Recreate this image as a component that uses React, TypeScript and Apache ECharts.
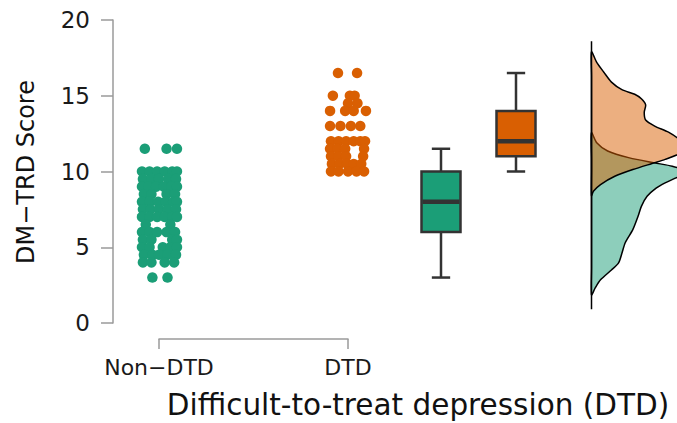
import React, { useEffect, useRef } from "react";
import * as echarts from "echarts";

const FONT = "DejaVu Sans";
const categories = ["Non\u2212DTD", "DTD"];
const colors = ["#1B9E77", "#D95F02"];
const densityFills = ["rgba(27,158,119,0.5)", "rgba(217,95,2,0.5)"];
const yMin = 0;
const yMax = 20;
const yStep = 5;
const yTitle = "DM\u2212TRD Score";
const xTitle = "Difficult-to-treat depression (DTD)";

// [horizontal jitter (category units), score]
const nonDtdPoints: [number, number][] = [
  [-0.075, 11.5], [0.04, 11.5], [0.095, 11.5],
  [-0.09, 10], [-0.05, 10], [-0.01, 10], [0.03, 10], [0.07, 10], [0.095, 10],
  [-0.085, 9.5], [-0.04, 9.5], [0.0, 9.5], [0.05, 9.5], [0.09, 9.5],
  [-0.09, 9], [-0.055, 9], [-0.015, 9], [0.025, 9], [0.065, 9], [0.095, 9],
  [-0.08, 8.5], [-0.04, 8.5], [0.04, 8.5], [0.085, 8.5],
  [-0.09, 8], [-0.05, 8], [-0.005, 8], [0.035, 8], [0.075, 8], [0.095, 8],
  [-0.085, 7.5], [-0.045, 7.5], [0.0, 7.5], [0.045, 7.5], [0.09, 7.5],
  [-0.09, 7], [-0.05, 7], [-0.01, 7], [0.03, 7], [0.07, 7], [0.095, 7],
  [-0.07, 6.5], [0.06, 6.5],
  [-0.09, 6], [-0.05, 6], [-0.01, 6], [0.04, 6], [0.085, 6],
  [-0.085, 5.5], [-0.04, 5.5], [0.07, 5.5], [0.095, 5.5],
  [-0.09, 5], [-0.05, 5], [0.02, 5], [0.06, 5], [0.095, 5],
  [-0.08, 4.5], [-0.035, 4.5], [0.0, 4.5], [0.045, 4.5], [0.09, 4.5],
  [-0.085, 4], [-0.04, 4], [0.03, 4], [0.08, 4],
  [-0.035, 3], [0.045, 3],
];

const dtdPoints: [number, number][] = [
  [-0.053, 16.5], [0.048, 16.5],
  [-0.08, 15], [0.01, 15], [0.035, 15],
  [0.0, 14.5], [0.05, 14.5],
  [-0.095, 14], [-0.015, 14], [0.03, 14], [0.095, 14],
  [-0.095, 13], [-0.04, 13], [0.015, 13], [0.065, 13],
  [-0.09, 12], [-0.05, 12], [-0.01, 12], [0.03, 12], [0.065, 12], [0.09, 12],
  [-0.095, 11.5], [-0.055, 11.5], [-0.015, 11.5], [0.085, 11.5],
  [-0.09, 11], [-0.05, 11], [-0.01, 11], [0.08, 11],
  [-0.085, 10.5], [-0.045, 10.5], [-0.005, 10.5], [0.03, 10.5], [0.07, 10.5],
  [-0.09, 10], [-0.05, 10], [0.0, 10], [0.045, 10], [0.085, 10],
];

// [min, Q1, median, Q3, max]
const boxStats: number[][] = [
  [3, 6, 8, 10, 11.5],
  [10, 11, 12, 14, 16.5],
];

// [score, density]
const nonDtdDensity: [number, number][] = [
  [12.56, 0], [11.9, 0.011], [11.35, 0.034], [10.9, 0.08], [10.57, 0.133],
  [10.35, 0.17], [10.13, 0.189], [9.8, 0.193], [9.58, 0.178], [9.25, 0.155],
  [8.9, 0.136], [8.36, 0.117], [7.7, 0.105], [7.04, 0.098], [6.16, 0.087],
  [5.3, 0.071], [4.6, 0.064], [3.97, 0.057], [3.5, 0.042], [2.85, 0.019],
  [2.3, 0.0075], [1.85, 0],
];
const dtdDensity: [number, number][] = [
  [17.9, 0], [17.2, 0.011], [16.55, 0.026], [15.9, 0.042], [15.4, 0.064],
  [15.1, 0.091], [14.8, 0.105], [14.4, 0.114], [13.9, 0.111], [13.4, 0.114],
  [13.0, 0.133], [12.6, 0.162], [12.1, 0.185], [11.7, 0.193], [11.25, 0.189],
  [10.8, 0.155], [10.58, 0.133], [10.13, 0.087], [9.69, 0.049], [9.14, 0.019],
  [8.7, 0.004], [8.4, 0],
];
const densityBaseRange = [0.9, 18.6];
const densityMax = 0.18;

const densities = [nonDtdDensity, dtdDensity];

export default function App() {
  const ref = useRef<HTMLDivElement>(null);
  useEffect(() => {
    if (!ref.current) return;
    const chart = echarts.init(ref.current, null, { renderer: "svg" });
    const hiddenY = (gi: number) => ({
      type: "value",
      gridIndex: gi,
      min: yMin,
      max: yMax,
      interval: yStep,
      show: false,
    });
    const axisColor = "#9a9a9a";
    const option: any = {
      animation: false,
      backgroundColor: "#ffffff",
      textStyle: { fontFamily: FONT },
      grid: [
        { left: 159, width: 189, top: 20, bottom: 100 },
        { left: 403.5, width: 150, top: 20, bottom: 100 },
        { left: 591.5, width: 88, top: 20, bottom: 100 },
        { left: 113, width: 10, top: 20, bottom: 100 },
      ],
      xAxis: [
        {
          type: "value",
          gridIndex: 0,
          min: 0,
          max: 1,
          interval: 1,
          offset: 16,
          axisLine: { show: true, onZero: false, lineStyle: { color: axisColor, width: 1.5 } },
          axisTick: { show: true, length: 10, inside: false, lineStyle: { color: axisColor, width: 1.5 } },
          axisLabel: {
            show: true,
            margin: 17,
            fontSize: 22,
            color: "#1a1a1a",
            fontFamily: FONT,
            showMinLabel: true,
            showMaxLabel: true,
            formatter: (v: number) => categories[Math.round(v)] ?? "",
          },
          splitLine: { show: false },
        },
        {
          type: "category",
          gridIndex: 1,
          data: categories,
          show: false,
        },
        {
          type: "value",
          gridIndex: 2,
          min: 0,
          max: densityMax,
          show: false,
        },
        {
          type: "value",
          gridIndex: 3,
          min: 0,
          max: 1,
          show: false,
        },
      ],
      yAxis: [
        hiddenY(0),
        hiddenY(1),
        hiddenY(2),
        {
          type: "value",
          gridIndex: 3,
          min: yMin,
          max: yMax,
          interval: yStep,
          axisLine: { show: true, onZero: false, lineStyle: { color: axisColor, width: 1.5 } },
          axisTick: { show: true, length: 12, lineStyle: { color: axisColor, width: 1.5 } },
          axisLabel: { margin: 23, fontSize: 23, color: "#1a1a1a", fontFamily: FONT },
          splitLine: { show: false },
        },
      ],
      series: [
        {
          type: "scatter",
          name: categories[0],
          xAxisIndex: 0,
          yAxisIndex: 0,
          clip: false,
          symbolSize: 10.5,
          itemStyle: { color: colors[0], opacity: 1 },
          emphasis: { disabled: true },
          data: nonDtdPoints.map(([j, v]) => [0 + j, v]),
        },
        {
          type: "scatter",
          name: categories[1],
          xAxisIndex: 0,
          yAxisIndex: 0,
          clip: false,
          symbolSize: 10.5,
          itemStyle: { color: colors[1], opacity: 1 },
          emphasis: { disabled: true },
          data: dtdPoints.map(([j, v]) => [1 + j, v]),
        },
        {
          type: "custom",
          name: "box",
          xAxisIndex: 1,
          yAxisIndex: 1,
          encode: { x: 0, y: [1, 2, 3, 4, 5] },
          data: boxStats.map((s, i) => [i, ...s]),
          renderItem: (params: any, api: any) => {
            const idx = api.value(0);
            const lo = api.coord([idx, api.value(1)]);
            const q1 = api.coord([idx, api.value(2)]);
            const med = api.coord([idx, api.value(3)]);
            const q3 = api.coord([idx, api.value(4)]);
            const hi = api.coord([idx, api.value(5)]);
            const band = api.size([1, 0])[0];
            const bw = band * 0.52;
            const cw = bw * 0.47;
            const cx = lo[0];
            const st = { stroke: "#333333", lineWidth: 2.5, fill: null };
            return {
              type: "group",
              children: [
                { type: "line", shape: { x1: cx, y1: hi[1], x2: cx, y2: q3[1] }, style: st },
                { type: "line", shape: { x1: cx, y1: q1[1], x2: cx, y2: lo[1] }, style: st },
                { type: "line", shape: { x1: cx - cw / 2, y1: hi[1], x2: cx + cw / 2, y2: hi[1] }, style: st },
                { type: "line", shape: { x1: cx - cw / 2, y1: lo[1], x2: cx + cw / 2, y2: lo[1] }, style: st },
                {
                  type: "rect",
                  shape: { x: cx - bw / 2, y: q3[1], width: bw, height: q1[1] - q3[1] },
                  style: { fill: colors[idx], stroke: "#333333", lineWidth: 2.5 },
                },
                {
                  type: "line",
                  shape: { x1: cx - bw / 2 + 1, y1: med[1], x2: cx + bw / 2 - 1, y2: med[1] },
                  style: { stroke: "#333333", lineWidth: 4.5 },
                },
              ],
            };
          },
        },
        {
          type: "custom",
          name: "density",
          xAxisIndex: 2,
          yAxisIndex: 2,
          data: densities.map((_, i) => [i]),
          renderItem: (params: any, api: any) => {
            const i = params.dataIndex;
            const curve = densities[i];
            const pts = curve.map(([s, d]) => api.coord([d, s]));
            const first = curve[0][0];
            const last = curve[curve.length - 1][0];
            const base: number[][] = [];
            const n = 6;
            for (let k = 1; k < n; k++) {
              base.push(api.coord([0, last + ((first - last) * k) / n]));
            }
            return {
              type: "polygon",
              shape: { points: [...pts, ...base], smooth: 0.25 },
              style: { fill: densityFills[i], stroke: "#000000", lineWidth: 1.5 },
            };
          },
        },
        {
          type: "custom",
          name: "densityBase",
          xAxisIndex: 2,
          yAxisIndex: 2,
          data: [[0, densityBaseRange[0], densityBaseRange[1]]],
          renderItem: (params: any, api: any) => {
            const a = api.coord([0, api.value(1)]);
            const b = api.coord([0, api.value(2)]);
            return {
              type: "line",
              shape: { x1: a[0], y1: a[1], x2: b[0], y2: b[1] },
              style: { stroke: "#000000", lineWidth: 1.5 },
            };
          },
        },
      ],
      graphic: [
        {
          type: "text",
          x: 26,
          y: 172,
          rotation: Math.PI / 2,
          style: {
            text: yTitle,
            fontSize: 24,
            fontFamily: FONT,
            fill: "#111111",
            align: "center",
            verticalAlign: "middle",
          },
        },
        {
          type: "text",
          x: 418,
          y: 405,
          style: {
            text: xTitle,
            fontSize: 29.5,
            fontFamily: FONT,
            fill: "#111111",
            align: "center",
            verticalAlign: "middle",
          },
        },
      ],
    };
    chart.setOption(option);
    return () => chart.dispose();
  }, []);
  return (
    <div
      ref={ref}
      style={{ position: "absolute", left: 0, top: 0, width: 677, height: 423 }}
    />
  );
}
